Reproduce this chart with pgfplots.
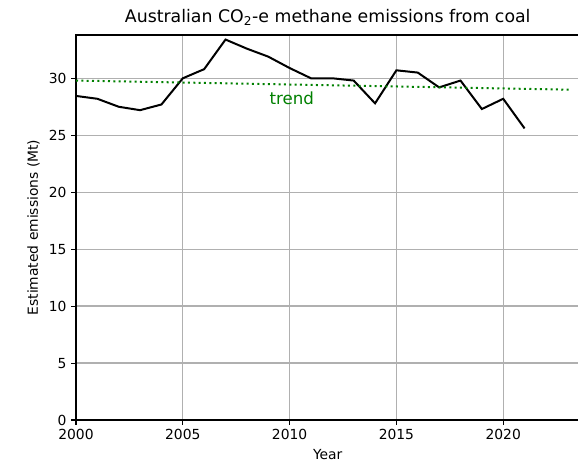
\documentclass[border=0pt]{standalone}
\usepackage{pgfplots}
\pgfplotsset{compat=1.18}
\usepackage{fontspec}
\setmainfont{DejaVu Sans}
\begin{document}
\begin{tikzpicture}
\begin{axis}[
  scale only axis,
  width=377.6pt, height=288.75pt,
  xmin=2000, xmax=2023.57, ymin=0, ymax=33.8,
  xtick={2000,2005,2010,2015,2020},
  ytick={0,5,10,15,20,25,30},
  xticklabel style={/pgf/number format/1000 sep={}},
  /pgf/number format/assume math mode=true,
  ticklabel style={font=\fontsize{10.4}{12}\selectfont},
  tick align=outside, tick pos=left,
  major tick length=3.6pt,
  tick style={black, line width=0.8pt},
  grid=major,
  grid style={color={rgb,255:red,176;green,176;blue,176}, line width=0.9pt},
  axis line style={black, line width=1pt},
  xlabel={Year}, ylabel={Estimated emissions (Mt)},
  label style={font=\fontsize{10.4}{12}\selectfont},
  title={Australian CO\textsubscript{2}-e methane emissions from coal},
  title style={font=\fontsize{13}{15}\selectfont, yshift=-2.5pt},
  clip=false,
]
\addplot[black, line width=1.5pt] coordinates {
(2000,28.45) (2001,28.2) (2002,27.5) (2003,27.2) (2004,27.7) (2005,30.0)
(2006,30.8) (2007,33.4) (2008,32.6) (2009,31.9) (2010,30.9) (2011,30.0)
(2012,30.0) (2013,29.8) (2014,27.8) (2015,30.7) (2016,30.5) (2017,29.2)
(2018,29.8) (2019,27.3) (2020,28.2) (2021,25.6)
};
\addplot[color={rgb,255:red,0;green,128;blue,0}, line width=1.5pt, dash pattern=on 1.5pt off 2.5pt] coordinates {
(2000,29.8) (2023.1,29.0)
};
\node[color={rgb,255:red,0;green,128;blue,0}, font=\fontsize{12.5}{14}\selectfont] at (axis cs:2010.1,28.2) {trend};
\end{axis}
\pgfresetboundingbox
\path[use as bounding box] (-57pt,-33.75pt) rectangle (376.5pt,315pt);
\end{tikzpicture}
\end{document}
